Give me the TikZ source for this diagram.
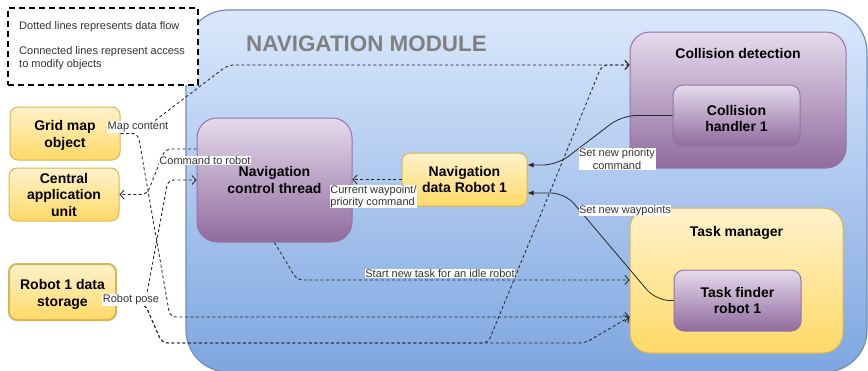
\documentclass[tikz,border=0pt]{standalone}
\usepackage{fontspec}
\setmainfont{Liberation Sans}
\usetikzlibrary{arrows.meta}
\definecolor{ylTop}{HTML}{FFF2CC}
\definecolor{ylBot}{HTML}{FFD966}
\definecolor{ylLine}{HTML}{D6B656}
\definecolor{puTop}{HTML}{E6DAEC}
\definecolor{puBot}{HTML}{8F6B9E}
\definecolor{puLine}{HTML}{9673A6}
\definecolor{blTop}{HTML}{DAE8FC}
\definecolor{blBot}{HTML}{7EA6E0}
\definecolor{blLine}{HTML}{6C8EBF}
\definecolor{flowc}{HTML}{262626}
\definecolor{lblc}{HTML}{333333}
\definecolor{titlec}{HTML}{808080}
\begin{document}
\begin{tikzpicture}[x=1pt,y=-1pt,
  box/.style={draw, rounded corners=8pt, align=center, font=\fontsize{14}{16.5}\selectfont\bfseries, inner sep=0pt, line width=1pt},
  yl/.style={box, draw=ylLine, top color=ylTop, bottom color=ylBot},
  pu/.style={box, draw=puLine, top color=puTop, bottom color=puBot},
  boxtxt/.style={align=center, font=\fontsize{14}{16.5}\selectfont\bfseries, inner sep=0pt},
  flow/.style={draw=flowc, line width=0.85pt, dash pattern=on 3pt off 2.5pt, rounded corners=6pt, -{Straight Barb[length=4pt,width=9pt]}},
  acc/.style={draw=black!85, line width=0.8pt, rounded corners=14pt, -{Latex[length=6pt,width=5pt]}},
  lbl/.style={fill=white, inner sep=0.6pt, font=\fontsize{11}{12.5}\selectfont, text=lblc},
  legtxt/.style={anchor=west, align=left, inner sep=0pt, font=\fontsize{11}{12.5}\selectfont, text=lblc}
]
\useasboundingbox (0,0) rectangle (868,370);

% navigation module container
\node[draw=blLine, line width=1.2pt, rounded corners=42pt, top color=blTop, bottom color=blBot,
      minimum width=681pt, minimum height=362pt, inner sep=0pt] (module) at (526.5,191) {};
\node[font=\fontsize{22.4}{24}\selectfont\bfseries, text=titlec] (modtitle) at (366.5,44) {NAVIGATION MODULE};

% legend
\node[draw=black, fill=white, line width=2pt, dash pattern=on 6pt off 4pt,
      minimum width=190pt, minimum height=77pt, inner sep=0pt] (legend) at (103,46.5) {};
\node[legtxt] (leg1) at (19,27) {Dotted lines represents data flow};
\node[legtxt] (leg2) at (19,58) {Connected lines represent access\\to modify objects};

% outer left boxes
\node[yl, minimum width=110pt, minimum height=53pt] (grid) at (65,133.5) {};
\node[boxtxt] (gridtxt) at (65,135.5) {Grid map\\object};
\node[yl, minimum width=110pt, minimum height=53pt] (central) at (64,194.5) {Central\\application\\unit};
\node[yl, line width=2pt, minimum width=107pt, minimum height=56pt] (robot) at (62.5,292) {};
\node[boxtxt] (robottxt) at (62.5,294.5) {Robot 1 data\\storage};

% inner boxes
\node[pu, rounded corners=20pt, minimum width=155pt, minimum height=124pt] (navctl) at (274.5,180) {Navigation\\control thread};
\node[yl, minimum width=125pt, minimum height=53pt] (navdata) at (464.5,179.5) {Navigation\\data Robot 1};
\node[pu, rounded corners=20pt, minimum width=216pt, minimum height=136pt] (colldet) at (738,100) {};
\node[boxtxt] (colltitle) at (738,53) {Collision detection};
\node[pu, rounded corners=10pt, minimum width=127pt, minimum height=61pt] (collh) at (736.5,115.5) {};
\node[boxtxt] (collhtxt) at (736.5,118.5) {Collision\\handler 1};
\node[yl, rounded corners=20pt, minimum width=213pt, minimum height=145pt] (taskm) at (736.5,280.5) {};
\node[boxtxt] (tasktitle) at (736.5,233) {Task manager};
\node[pu, rounded corners=10pt, minimum width=127pt, minimum height=61pt] (taskf) at (737.5,300.5) {Task finder\\robot 1};

% waypoints
\coordinate (m1) at (138,133.5);
\coordinate (m2) at (170,317);
\coordinate (u1) at (228,65);
\coordinate (k1) at (165,149);
\coordinate (k2) at (147,194.5);
\coordinate (r0) at (145,304);
\coordinate (r1) at (168,180);
\coordinate (r3) at (162,343);
\coordinate (r4) at (585,343);
\coordinate (r5) at (488,343);
\coordinate (r6) at (602,65);
\coordinate (s1) at (297,280);
\coordinate (p1) at (622,115.5);
\coordinate (p2) at (557,165);
\coordinate (w1) at (656,300.5);
\coordinate (w2) at (565,193);

% data flow connectors
\draw[flow] (grid.east) -- (m1) -- (m2) -- (taskm.west |- m2);
\draw[flow] (grid.east) -- (m1) -- (u1) -- (colldet.west |- u1);
\draw[flow] (navctl.west |- k1) -- (k1) -- (k2) -- (central.east);
\draw[flow] (robot.east |- r0) -- (r0) -- (r1) -- (navctl.west |- r1);
\draw[flow] (robot.east |- r0) -- (r0) -- (r3) -- (r4) -- (taskm.west |- m2);
\draw[flow] (robot.east |- r0) -- (r0) -- (r3) -- (r5) -- (r6) -- (colldet.west |- u1);
\draw[flow] (navctl.south) -- (s1) -- (taskm.west |- s1);
\draw[flow] (navdata.west) -- (navctl.east |- navdata.west);

% access connectors
\draw[acc] (collh.west) -- (p1) -- (p2) -- (navdata.east |- p2);
\draw[acc] (taskf.west) -- (w1) -- (w2) -- (navdata.east |- w2);

% labels
\node[lbl] (lmap) at (138,127) {Map content};
\node[lbl] (lcmd) at (205,160.5) {Command to robot};
\node[lbl] (lpose) at (131,300) {Robot pose};
\node[lbl] (ltask) at (440,273.5) {Start new task for an idle robot};
\node[lbl, align=left] (lcur) at (373.5,196.5) {Current waypoint/\\priority command};
\node[lbl, align=center] (lprio) at (617,159) {Set new priority\\command};
\node[lbl] (lway) at (625,210.5) {Set new waypoints};
\end{tikzpicture}
\end{document}
